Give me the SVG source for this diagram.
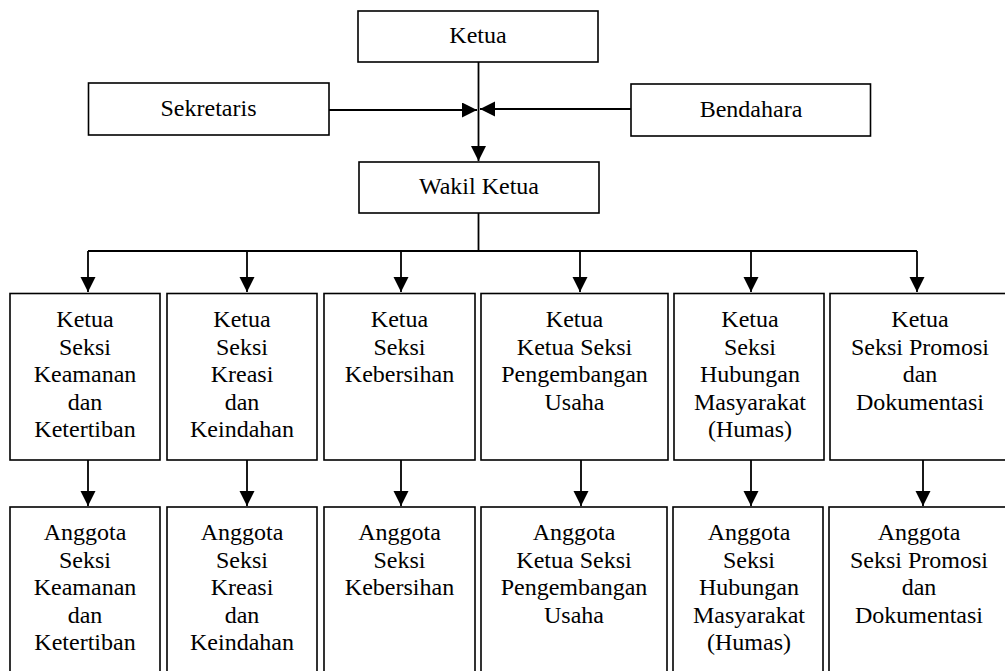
<svg xmlns="http://www.w3.org/2000/svg" width="1005" height="671" viewBox="0 0 1005 671">
<style>
.box{fill:#fff;stroke:#000;stroke-width:1.6}
.t{font-family:"Liberation Serif","Times New Roman",serif;font-size:24px;fill:#000;text-anchor:middle}
.c{fill:none;stroke:#000;stroke-width:1.8}
</style>
<defs>
<marker id="ah" markerUnits="userSpaceOnUse" markerWidth="16" markerHeight="16" refX="15" refY="7.5" orient="auto">
<path d="M0,0 L15,7.5 L0,15 Z" fill="#000"/>
</marker>
</defs>
<rect width="1005" height="671" fill="#fff"/>
<g id="connectors">
<line class="c" x1="478.5" y1="62" x2="478.5" y2="161" marker-end="url(#ah)"/>
<line class="c" x1="329" y1="110" x2="477" y2="110" marker-end="url(#ah)"/>
<line class="c" x1="631" y1="109" x2="480" y2="109" stroke-width="2.4" marker-end="url(#ah)"/>
<line class="c" x1="478.5" y1="213" x2="478.5" y2="251"/>
<line class="c" x1="88" y1="251" x2="917" y2="251"/>
<line class="c" x1="88" y1="251" x2="88" y2="292" marker-end="url(#ah)"/>
<line class="c" x1="247" y1="251" x2="247" y2="292" marker-end="url(#ah)"/>
<line class="c" x1="401" y1="251" x2="401" y2="292" marker-end="url(#ah)"/>
<line class="c" x1="580" y1="251" x2="580" y2="292" marker-end="url(#ah)"/>
<line class="c" x1="751" y1="251" x2="751" y2="292" marker-end="url(#ah)"/>
<line class="c" x1="917" y1="251" x2="917" y2="292" marker-end="url(#ah)"/>
<line class="c" x1="88" y1="460" x2="88" y2="506" marker-end="url(#ah)"/>
<line class="c" x1="247" y1="460" x2="247" y2="506" marker-end="url(#ah)"/>
<line class="c" x1="401" y1="460" x2="401" y2="506" marker-end="url(#ah)"/>
<line class="c" x1="581" y1="460" x2="581" y2="506" marker-end="url(#ah)"/>
<line class="c" x1="751" y1="460" x2="751" y2="506" marker-end="url(#ah)"/>
<line class="c" x1="923" y1="460" x2="923" y2="506" marker-end="url(#ah)"/>
</g>
<g id="ketua"><rect class="box" x="358" y="11" width="240" height="51"/><text class="t" x="478" y="43">Ketua</text></g>
<g id="sekretaris"><rect class="box" x="88.5" y="83" width="240.5" height="52"/><text class="t" x="208.5" y="116">Sekretaris</text></g>
<g id="bendahara"><rect class="box" x="631" y="84" width="239.5" height="52"/><text class="t" x="751" y="117">Bendahara</text></g>
<g id="wakil"><rect class="box" x="359" y="162" width="240" height="51"/><text class="t" x="479" y="194">Wakil Ketua</text></g>

<g id="k1"><rect class="box" x="10" y="293.5" width="150" height="166.5"/>
<text class="t"><tspan x="85" y="327">Ketua</tspan><tspan x="85" y="354.5">Seksi</tspan><tspan x="85" y="382">Keamanan</tspan><tspan x="85" y="409.5">dan</tspan><tspan x="85" y="437">Ketertiban</tspan></text></g>
<g id="k2"><rect class="box" x="167" y="293.5" width="150" height="166.5"/>
<text class="t"><tspan x="242" y="327">Ketua</tspan><tspan x="242" y="354.5">Seksi</tspan><tspan x="242" y="382">Kreasi</tspan><tspan x="242" y="409.5">dan</tspan><tspan x="242" y="437">Keindahan</tspan></text></g>
<g id="k3"><rect class="box" x="324" y="293.5" width="151" height="166.5"/>
<text class="t"><tspan x="399.5" y="327">Ketua</tspan><tspan x="399.5" y="354.5">Seksi</tspan><tspan x="399.5" y="382">Kebersihan</tspan></text></g>
<g id="k4"><rect class="box" x="481" y="293.5" width="187" height="166.5"/>
<text class="t"><tspan x="574.5" y="327">Ketua</tspan><tspan x="574.5" y="354.5">Ketua Seksi</tspan><tspan x="574.5" y="382">Pengembangan</tspan><tspan x="574.5" y="409.5">Usaha</tspan></text></g>
<g id="k5"><rect class="box" x="674" y="293.5" width="150" height="166.5"/>
<text class="t"><tspan x="750" y="327">Ketua</tspan><tspan x="750" y="354.5">Seksi</tspan><tspan x="750" y="382">Hubungan</tspan><tspan x="750" y="409.5">Masyarakat</tspan><tspan x="750" y="437">(Humas)</tspan></text></g>
<g id="k6"><rect class="box" x="830" y="293.5" width="180" height="166.5"/>
<text class="t"><tspan x="920" y="327">Ketua</tspan><tspan x="920" y="354.5">Seksi Promosi</tspan><tspan x="920" y="382">dan</tspan><tspan x="920" y="409.5">Dokumentasi</tspan></text></g>

<g id="a1"><rect class="box" x="10" y="507" width="150" height="180"/>
<text class="t"><tspan x="85" y="540">Anggota</tspan><tspan x="85" y="567.5">Seksi</tspan><tspan x="85" y="595">Keamanan</tspan><tspan x="85" y="622.5">dan</tspan><tspan x="85" y="650">Ketertiban</tspan></text></g>
<g id="a2"><rect class="box" x="167" y="507" width="150" height="180"/>
<text class="t"><tspan x="242" y="540">Anggota</tspan><tspan x="242" y="567.5">Seksi</tspan><tspan x="242" y="595">Kreasi</tspan><tspan x="242" y="622.5">dan</tspan><tspan x="242" y="650">Keindahan</tspan></text></g>
<g id="a3"><rect class="box" x="324" y="507" width="151" height="180"/>
<text class="t"><tspan x="399.5" y="540">Anggota</tspan><tspan x="399.5" y="567.5">Seksi</tspan><tspan x="399.5" y="595">Kebersihan</tspan></text></g>
<g id="a4"><rect class="box" x="481" y="507" width="186" height="180"/>
<text class="t"><tspan x="574" y="540">Anggota</tspan><tspan x="574" y="567.5">Ketua Seksi</tspan><tspan x="574" y="595">Pengembangan</tspan><tspan x="574" y="622.5">Usaha</tspan></text></g>
<g id="a5"><rect class="box" x="673" y="507" width="150" height="180"/>
<text class="t"><tspan x="749" y="540">Anggota</tspan><tspan x="749" y="567.5">Seksi</tspan><tspan x="749" y="595">Hubungan</tspan><tspan x="749" y="622.5">Masyarakat</tspan><tspan x="749" y="650">(Humas)</tspan></text></g>
<g id="a6"><rect class="box" x="829" y="507" width="181" height="180"/>
<text class="t"><tspan x="919" y="540">Anggota</tspan><tspan x="919" y="567.5">Seksi Promosi</tspan><tspan x="919" y="595">dan</tspan><tspan x="919" y="622.5">Dokumentasi</tspan></text></g>
</svg>
